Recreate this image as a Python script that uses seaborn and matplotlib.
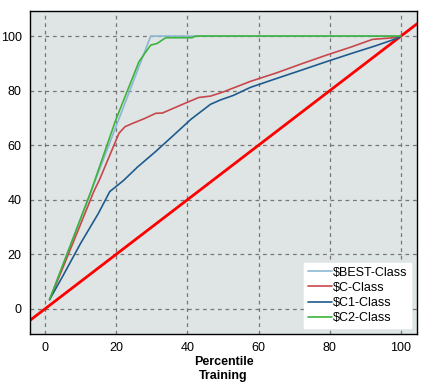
import matplotlib
matplotlib.use("Agg")
import matplotlib.pyplot as plt
import seaborn as sns
import pandas as pd

# Data
best_x = [1.3, 29.7, 40, 60, 80, 100]
best_y = [3.4, 100, 100, 100, 100, 100]

c_x = [1.3, 5, 10, 13.7, 15.3, 20.8, 22.5, 24.6, 28, 31.1, 33, 36, 39.4, 43.2, 46.5, 50, 57.7, 65, 72, 79, 86, 92, 99, 100]
c_y = [3.4, 15, 31, 43, 47.3, 64.4, 66.8, 68, 69.8, 71.7, 71.8, 73.5, 75.4, 77.5, 78, 79.5, 83.4, 86.5, 89.8, 93, 96, 98.8, 99.5, 100]

c1_x = [1.3, 5, 10, 15, 18.2, 22, 26, 31.1, 36, 41, 46.5, 49.3, 53, 57.7, 64, 72, 79, 86, 93, 99, 100]
c1_y = [3.4, 12, 24, 35, 43, 47, 52, 57.7, 63.5, 69.5, 75, 76.6, 78.3, 81.2, 84, 87.5, 90.6, 93.6, 96.5, 99.2, 100]

c2_x = [1.3, 12.9, 19.9, 26.4, 28.5, 29.7, 31.5, 33.9, 41.3, 42.3, 60, 80, 100]
c2_y = [3.4, 43, 69.3, 90.6, 94.5, 96.7, 97.3, 99.4, 99.4, 100, 100, 100, 100]

series_names = ["$BEST-Class", "$C-Class", "$C1-Class", "$C2-Class"]
colors = ["#8db7d2", "#c8474c", "#1f5b8e", "#3cb43c"]

rows = []
for name, xs, ys in zip(series_names, [best_x, c_x, c1_x, c2_x], [best_y, c_y, c1_y, c2_y]):
    for x, y in zip(xs, ys):
        rows.append({"Percentile": x, "Gain": y, "Series": name})
df = pd.DataFrame(rows)

sns.set_style("white")
plt.rcParams["font.family"] = ["Liberation Sans", "DejaVu Sans"]
plt.rcParams["text.color"] = "black"
plt.rcParams["axes.labelcolor"] = "black"
plt.rcParams["xtick.color"] = "black"
plt.rcParams["ytick.color"] = "black"

fig = plt.figure(figsize=(4.25, 3.85), dpi=100)
ax = fig.add_axes([30/425, 1 - 334/385, 387/425, 323/385])
ax.set_facecolor("#dfe5e5")

ax.axline((0, 0), (100, 100), color="#ff0000", lw=2, zorder=2)

sns.lineplot(data=df, x="Percentile", y="Gain", hue="Series", hue_order=series_names,
             palette=colors, estimator=None, sort=False, lw=1.2, ax=ax, zorder=3)

ax.set_xlim(-4.2, 104.5)
ax.set_ylim(-9.2, 109.2)
ax.set_xticks([0, 20, 40, 60, 80, 100])
ax.set_yticks([0, 20, 40, 60, 80, 100])
ax.grid(True, color="#777777", linestyle=(0, (3, 3)), lw=0.9)
ax.set_axisbelow(True)
for s in ax.spines.values():
    s.set_color("black")
    s.set_linewidth(1.0)
ax.tick_params(axis="both", direction="out", length=4, width=0.8, labelsize=9,
               colors="black", labelcolor="black", pad=2)
ax.set_xlabel("Percentile\nTraining", fontsize=9, fontweight="bold", labelpad=1,
              color="black", linespacing=1.2)
ax.set_ylabel("")

leg = ax.legend(loc="lower right", fontsize=9, frameon=True, fancybox=False,
                handlelength=1.9, handletextpad=0.05, borderpad=0.3, labelspacing=0.25,
                borderaxespad=0.5)
leg.get_frame().set_facecolor("white")
leg.get_frame().set_edgecolor("white")
leg.get_frame().set_alpha(1)
for line in leg.get_lines():
    line.set_linewidth(1.2)
for t in leg.get_texts():
    t.set_color("black")

fig.savefig("out.png", dpi=100)
